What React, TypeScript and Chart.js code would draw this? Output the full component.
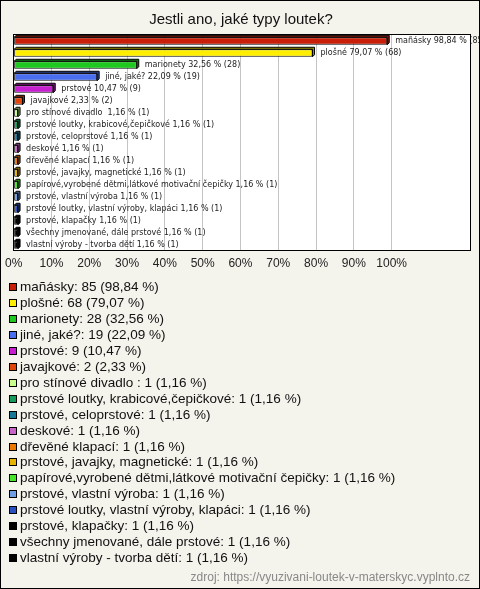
import React, { useEffect, useRef } from "react";
import { Chart, registerables } from "chart.js";

Chart.register(...registerables);

const titleText = "Jestli ano, jaké typy loutek?";
const categories = [
  "mañásky",
  "plošné",
  "marionety",
  "jiné, jaké?",
  "prstové",
  "javajkové",
  "pro stínové divadlo ",
  "prstové loutky, krabicové,čepičkové",
  "prstové, celoprstové",
  "deskové",
  "dřevěné klapací",
  "prstové, javajky, magnetické",
  "papírové,vyrobené dětmi,látkové motivační čepičky",
  "prstové, vlastní výroba",
  "prstové loutky, vlastní výroby, klapáci",
  "prstové, klapačky",
  "všechny jmenované, dále prstové",
  "vlastní výroby - tvorba dětí",
];
const counts = [85, 68, 28, 19, 9, 2, 1, 1, 1, 1, 1, 1, 1, 1, 1, 1, 1, 1];
const percents = [98.84, 79.07, 32.56, 22.09, 10.47, 2.33, 1.16, 1.16, 1.16, 1.16, 1.16, 1.16, 1.16, 1.16, 1.16, 1.16, 1.16, 1.16];
const colors = [
  "#c81e0a", "#ffee00", "#1ec81e", "#4a6ef0", "#c81ed2", "#e0460a",
  "#c8ff8c", "#149a5a", "#147896", "#c864c8", "#ec7800", "#e6b400",
  "#46e628", "#6e9ee6", "#2850c0", "#000000", "#000000", "#000000",
];
const tickValues = [0, 10, 20, 30, 40, 50, 60, 70, 80, 90, 100];
const sourceText = "zdroj: https://vyuzivani-loutek-v-materskyc.vyplnto.cz";

const fmt = (p: number) => p.toFixed(2).replace(".", ",");

function darker(hex: string, f = 0.6) {
  const n = parseInt(hex.slice(1), 16);
  const r = Math.round(((n >> 16) & 255) * f);
  const g = Math.round(((n >> 8) & 255) * f);
  const b = Math.round((n & 255) * f);
  return `rgb(${r},${g},${b})`;
}

const W = 480;
const H = 589;

export default function App() {
  const ref = useRef<HTMLCanvasElement>(null);
  useEffect(() => {
    document.body.style.margin = "0";
    const canvas = ref.current!;
    const framePlugin = {
      id: "frame",
      beforeDraw(chart: any) {
        const { ctx, chartArea } = chart;
        ctx.save();
        ctx.fillStyle = "#f4f3ec";
        ctx.fillRect(0, 0, W, H);
        ctx.fillStyle = "#ffffff";
        ctx.fillRect(chartArea.left, chartArea.top, chartArea.right - chartArea.left, chartArea.bottom - chartArea.top);
        ctx.restore();
      },
      beforeDatasetsDraw(chart: any) {
        const { ctx } = chart;
        const meta = chart.getDatasetMeta(0);
        ctx.save();
        meta.data.forEach((bar: any, i: number) => {
          const h = bar.height;
          const x0 = bar.base;
          const x1 = bar.x;
          const y0 = bar.y - h / 2;
          const d = 2;
          ctx.fillStyle = darker(colors[i]);
          ctx.strokeStyle = "#000";
          ctx.lineWidth = 1;
          ctx.beginPath();
          ctx.moveTo(x0, y0);
          ctx.lineTo(x0 + d, y0 - d);
          ctx.lineTo(x1 + d, y0 - d);
          ctx.lineTo(x1 + d, y0 + h - d);
          ctx.lineTo(x1, y0 + h);
          ctx.lineTo(x1, y0);
          ctx.closePath();
          ctx.fill();
          ctx.stroke();
        });
        ctx.restore();
      },
      afterDatasetsDraw(chart: any) {
        const { ctx } = chart;
        const meta = chart.getDatasetMeta(0);
        ctx.save();
        ctx.font = "8px 'DejaVu Sans'";
        ctx.fillStyle = "#222";
        ctx.textBaseline = "middle";
        ctx.textAlign = "left";
        meta.data.forEach((bar: any, i: number) => {
          ctx.fillText(`${categories[i]} ${fmt(percents[i])} % (${counts[i]})`, bar.x + 8, bar.y);
        });
        ctx.restore();
      },
      afterDraw(chart: any) {
        const { ctx, chartArea } = chart;
        ctx.save();
        ctx.strokeStyle = "#000";
        ctx.lineWidth = 1;
        ctx.strokeRect(
          Math.round(chartArea.left) - 0.5,
          Math.round(chartArea.top) - 0.5,
          Math.round(chartArea.right - chartArea.left),
          Math.round(chartArea.bottom - chartArea.top)
        );
        // legend
        const y0 = 287;
        const step = 15.95;
        ctx.font = "13.5px 'Liberation Sans'";
        ctx.textBaseline = "middle";
        ctx.textAlign = "left";
        categories.forEach((c, i) => {
          const y = Math.round(y0 + i * step);
          ctx.fillStyle = colors[i];
          ctx.fillRect(9, y - 4, 8, 8);
          ctx.strokeStyle = "#000";
          ctx.strokeRect(9.5, y - 3.5, 7, 7);
          ctx.fillStyle = "#111";
          ctx.fillText(`${c}: ${counts[i]} (${fmt(percents[i])} %)`, 20, y + 0.5);
        });
        ctx.font = "12px 'Liberation Sans'";
        ctx.fillStyle = "#888";
        ctx.textAlign = "right";
        ctx.fillText(sourceText, 470, 578);
        ctx.strokeStyle = "#000";
        ctx.strokeRect(0.5, 0.5, W - 1, H - 1);
        ctx.restore();
      },
    };

    const chart = new Chart(canvas, {
      type: "bar",
      data: {
        labels: categories,
        datasets: [
          {
            data: percents,
            backgroundColor: colors,
            borderColor: "#000",
            borderWidth: 1,
            borderSkipped: false,
            barPercentage: 0.62,
            categoryPercentage: 1,
          },
        ],
      },
      options: {
        indexAxis: "y",
        responsive: false,
        animation: false,
        devicePixelRatio: 1,
        layout: { padding: { left: 11, right: 9, top: 0, bottom: 318 } },
        plugins: {
          legend: { display: false },
          tooltip: { enabled: false },
          title: {
            display: true,
            text: titleText,
            color: "#111",
            font: { family: "'Liberation Sans'", size: 15, weight: "normal" },
            padding: { top: 11, bottom: 6 },
          },
        },
        scales: {
          y: { display: false },
          x: {
            min: 0,
            max: 121,
            afterBuildTicks: (scale: any) => {
              scale.ticks = tickValues.map((v) => ({ value: v }));
            },
            afterFit: (scale: any) => {
              scale.height = 20;
            },
            grid: { color: "#c4c4c4", drawTicks: false },
            border: { display: false },
            ticks: {
              padding: 5,
              color: "#222",
              font: { family: "'Liberation Sans'", size: 12 },
              callback: (v: any) => `${v}%`,
              maxRotation: 0,
              autoSkip: false,
            },
          },
        },
      } as any,
      plugins: [framePlugin],
    });
    return () => chart.destroy();
  }, []);
  return <canvas ref={ref} width={W} height={H} style={{ display: "block" }} />;
}
